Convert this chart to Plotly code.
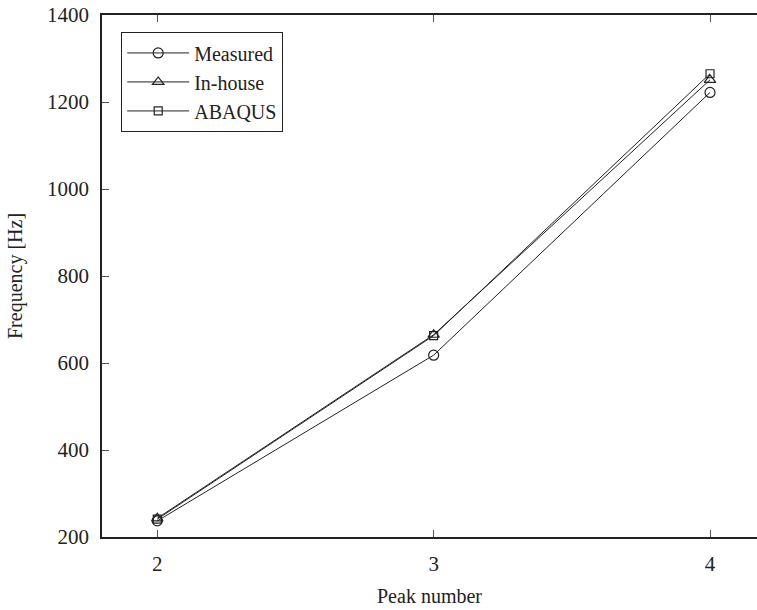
import plotly.graph_objects as go

peaks = [2, 3, 4]
measured = [237, 618, 1222]
inhouse = [243, 665, 1251]
abaqus = [241, 663, 1265]

x_ticks = [2, 3, 4]
y_ticks = [200, 400, 600, 800, 1000, 1200, 1400]

FONT = "Liberation Serif, Times New Roman, serif"
C = "#222222"

fig = go.Figure()
fig.add_trace(go.Scatter(x=peaks, y=measured, name="Measured", mode="lines+markers",
                         line=dict(color=C, width=1),
                         marker=dict(symbol="circle-open", size=10, color=C, line=dict(width=1.2))))
fig.add_trace(go.Scatter(x=peaks, y=inhouse, name="In-house", mode="lines+markers",
                         line=dict(color=C, width=1),
                         marker=dict(symbol="triangle-up-open", size=10, color=C, line=dict(width=1.2))))
fig.add_trace(go.Scatter(x=peaks, y=abaqus, name="ABAQUS", mode="lines+markers",
                         line=dict(color=C, width=1),
                         marker=dict(symbol="square-open", size=8, color=C, line=dict(width=1.2))))

fig.update_layout(
    width=757, height=610,
    margin=dict(l=102, r=0, t=15, b=73),
    paper_bgcolor="white", plot_bgcolor="white",
    font=dict(family=FONT, size=20, color="#222"),
    showlegend=True,
    legend=dict(x=0.029, y=0.967, xanchor="left", yanchor="top",
                bordercolor="#222", borderwidth=1.2, bgcolor="white",
                font=dict(family=FONT, size=20, color="#222"),
                itemwidth=62, tracegroupgap=0),
    xaxis=dict(range=[1.8, 4.17], tickvals=x_ticks, ticktext=[str(v) for v in x_ticks],
               showgrid=False, zeroline=False, showline=True, linecolor="#222", linewidth=1.5,
               mirror="ticks", ticks="inside", ticklen=7, tickcolor="#555", tickwidth=1.2,
               ticklabelstandoff=7,
               title=dict(text="Peak number", font=dict(family=FONT, size=20), standoff=14),
               tickfont=dict(family=FONT, size=21)),
    yaxis=dict(range=[200, 1400], tickvals=y_ticks, ticktext=[str(v) for v in y_ticks],
               showgrid=False, zeroline=False, showline=True, linecolor="#222", linewidth=1.5,
               mirror=False, ticks="inside", ticklen=7, tickcolor="#555", tickwidth=1.2,
               ticklabelstandoff=7,
               title=dict(text="Frequency [Hz]", font=dict(family=FONT, size=20), standoff=19),
               tickfont=dict(family=FONT, size=21)),
)

fig.write_html("out.html")
